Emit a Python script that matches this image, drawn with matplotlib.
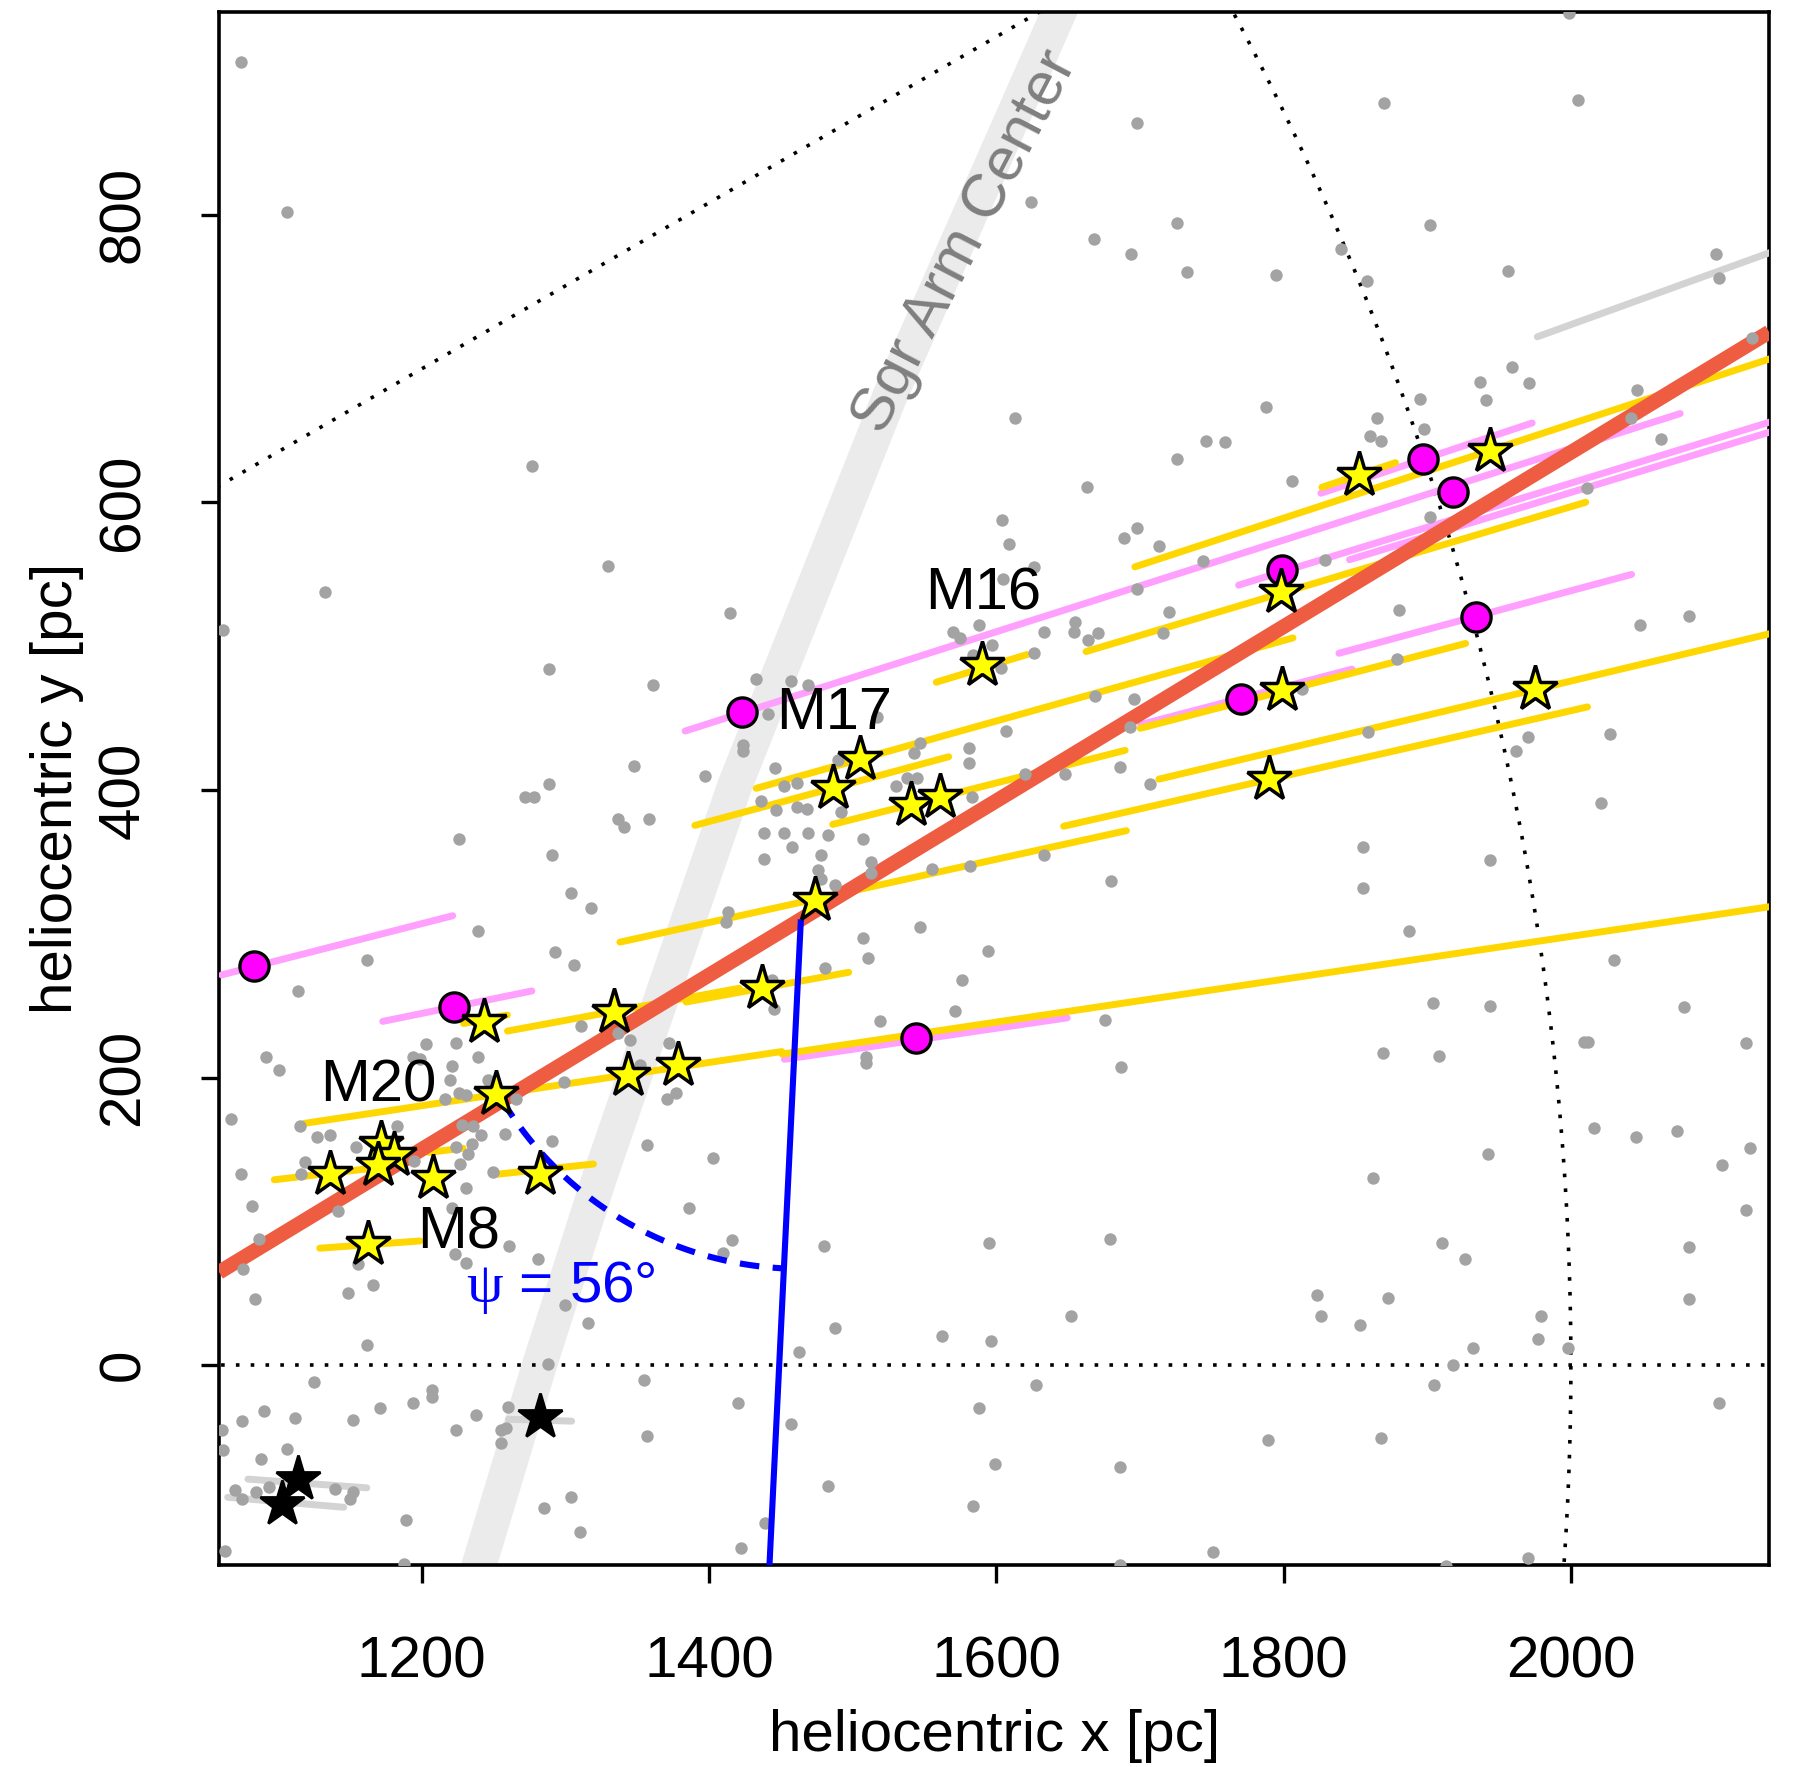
import numpy as np
import matplotlib
matplotlib.use("Agg")
import matplotlib.pyplot as plt

plt.rcParams['font.family'] = ['Liberation Sans', 'DejaVu Sans']
plt.rcParams['mathtext.fontset'] = 'custom'
plt.rcParams['mathtext.rm'] = 'Liberation Serif'

# yellow stars: galactic longitude [deg], distance [pc]
star_l = [18.48, 18.12, 16.64, 14.62, 13.39, 12.83, 17.02, 15.65, 15.12, 14.19,
          14.21, 12.38, 10.34, 10.43, 10.87, 8.54, 8.60, 8.58, 5.92, 7.49,
          7.05, 6.80, 6.68, 6.14, 4.16]
star_d = [1953, 2045, 1877, 1859, 2030, 1836, 1663, 1563, 1540, 1589,
          1610, 1509, 1461, 1356, 1266, 1359, 1394, 1266, 1289, 1182,
          1190, 1178, 1144, 1215, 1166]

# magenta circles (maser parallaxes)
maser_l = [14.37, 11.52, 17.70, 8.37, 14.67, 17.08, 18.38, 17.57, 15.06]
maser_d = [1118, 1248, 1494, 1561, 1830, 1882, 1999, 2012, 2003]

# distance ranges along the line of sight
gold_l = [18.12, 18.48, 16.62, 14.60, 13.38, 12.82, 16.95, 15.64, 15.11, 14.20,
          12.40, 10.34, 10.45, 10.94, 8.55, 8.48, 6.05, 6.70, 7.00, 4.12]
gold_dmin = [1785, 1926, 1735, 1757, 1761, 1689, 1629, 1488, 1440, 1533,
             1370, 1407, 1281, 1252, 1131, 1467, 1260, 1105, 1214, 1132]
gold_dmax = [2300, 1980, 2098, 1991, 2300, 2063, 1695, 1876, 1623, 1743,
             1731, 1522, 1445, 1283, 1467, 2300, 1327, 1170, 1238, 1202]

pink_l = [14.35, 11.52, 17.68, 8.33, 14.68, 17.05, 16.88, 18.37, 15.07]
pink_dmin = [1095, 1197, 1452, 1468, 1758, 1850, 1929, 1924, 1904]
pink_dmax = [1261, 1303, 2179, 1667, 1910, 2300, 2300, 2079, 2115]

# black stars and their light grey ranges
fg_l = [-4.05, -4.99, -1.61]
fg_d = [1117, 1107, 1283]
grey_l = [-4.20, -4.93, -1.71, 19.89]
grey_dmin = [1082, 1069, 1261, 2102]
grey_dmax = [1165, 1150, 1305, 2300]

# field objects
field_x = [1074, 1106, 1698, 1624, 1726, 1668, 1694, 1733, 1999, 1870, 2005, 1902, 1840, 1795,
           1858, 1956, 2101, 2103, 2126, 1959, 1937, 1971, 2046, 1895, 1941, 1277, 1330, 1133,
           1062, 1415, 1289, 1361, 1348, 1397, 1289, 1613, 1746, 1759, 1726, 1663, 1604, 1609,
           1689, 1698, 1713, 1626, 1605, 1744, 1698, 1720, 1588, 1570, 1575, 1597, 1633, 1655,
           1654, 1664, 1671, 1716, 1626, 1603, 1584, 1433, 1457, 1469, 1441, 1669, 1696, 1607,
           1547, 1581, 1543, 1581, 1693, 1686, 1648, 1620, 1707, 1424, 1424, 1446, 1452, 1461,
           1490, 1517, 1538, 1545, 1530, 1788, 1865, 1860, 1868, 1898, 2042, 2063, 1806, 1902,
           2011, 1829, 1880, 2048, 2082, 1879, 1813, 1859, 1970, 1962, 2027, 1272, 1278, 1337,
           1341, 1358, 1226, 1291, 1304, 1318, 1239, 1162, 1293, 1306, 1114, 1413, 1412, 1092,
           1101, 1203, 1224, 1239, 1194, 1199, 1221, 1220, 1311, 1337, 1345, 1372, 1352, 1299,
           1216, 1226, 1231, 1246, 1266, 1371, 1377, 1067, 1115, 1127, 1136, 1183, 1228, 1236,
           1258, 1291, 1241, 1235, 1232, 1224, 1357, 1403, 1074, 1119, 1154, 1195, 1227, 1250,
           1116, 1436, 1447, 1461, 1468, 1492, 1438, 1452, 1469, 1483, 1507, 1458, 1438, 1478,
           1513, 1513, 1476, 1478, 1488, 1555, 1582, 1633, 1680, 1583, 1547, 1507, 1511, 1594,
           1481, 1576, 1444, 1445, 1571, 1519, 1676, 1509, 1509, 1687, 2021, 1855, 1944, 1855,
           1887, 2030, 1904, 1944, 2079, 2009, 2012, 2122, 1869, 1908, 2016, 2045, 2074, 2125,
           2105, 1942, 1862, 1082, 1142, 1221, 1231, 1087, 1076, 1223, 1231, 1156, 1261, 1281,
           1386, 1416, 1410, 1084, 1149, 1166, 1300, 1316, 1162, 1288, 1355, 1125, 1207, 1207,
           1194, 1171, 1090, 1112, 1075, 1152, 1061, 1260, 1238, 1224, 1255, 1259, 1255, 1357,
           1106, 1088, 1062, 1070, 1075, 1085, 1094, 1140, 1152, 1150, 1189, 1285, 1304, 1310,
           1063, 1188, 1420, 1480, 1595, 1679, 1488, 1463, 1562, 1596, 1652, 1628, 1457, 1588,
           1599, 1686, 1483, 1584, 1439, 1422, 1751, 1686, 2122, 1910, 1926, 2082, 1823, 1873,
           1826, 1853, 1979, 1977, 1932, 1998, 1918, 1905, 2103, 1789, 1868, 2082, 1970, 1913]
field_y = [906, 802, 864, 809, 794, 783, 773, 760, 940, 878, 880, 793, 776, 758,
           754, 761, 773, 756, 714, 694, 684, 683, 678, 672, 671, 625, 556, 538,
           511, 523, 484, 473, 417, 410, 404, 659, 643, 642, 630, 611, 588, 571,
           575, 582, 570, 555, 547, 559, 540, 524, 515, 510, 506, 501, 510, 517,
           510, 504, 509, 509, 495, 485, 494, 477, 476, 473, 453, 465, 463, 441,
           433, 429, 426, 419, 444, 416, 411, 411, 404, 431, 427, 415, 403, 405,
           421, 451, 408, 408, 403, 666, 659, 646, 643, 651, 659, 644, 615, 590,
           610, 560, 525, 515, 521, 491, 470, 440, 437, 427, 439, 395, 395, 380,
           374, 380, 366, 355, 328, 318, 302, 282, 287, 278, 260, 315, 308, 214,
           205, 223, 224, 214, 214, 213, 208, 198, 236, 231, 226, 224, 209, 197,
           185, 189, 188, 198, 185, 185, 189, 171, 166, 159, 160, 166, 167, 166,
           161, 156, 160, 154, 147, 152, 153, 144, 133, 141, 152, 142, 140, 134,
           133, 392, 386, 388, 387, 385, 370, 370, 370, 369, 366, 360, 352, 355,
           350, 342, 344, 338, 334, 345, 347, 355, 337, 395, 305, 297, 283, 288,
           276, 268, 268, 248, 246, 239, 240, 214, 210, 207, 391, 360, 351, 332,
           302, 282, 252, 250, 249, 225, 225, 224, 217, 215, 165, 159, 163, 151,
           139, 147, 130, 111, 107, 109, 123, 88, 67, 77, 71, 70, 83, 74,
           109, 87, 78, 46, 50, 56, 42, 29, 14, 1, -10, -12, -17, -22,
           -26, -30, -32, -37, -39, -38, -45, -29, -35, -45, -45, -44, -54, -49,
           -58, -65, -59, -87, -93, -88, -85, -86, -88, -93, -108, -99, -92, -116,
           -129, -138, -26, 83, 85, 88, 26, 9, 20, 17, 34, -14, -41, -30,
           -69, -71, -84, -98, -110, -127, -130, -139, 108, 85, 74, 82, 49, 47,
           34, 28, 34, 18, 12, 12, 0, -14, -26, -52, -51, 46, -134, -140]

# centre line of the Sagittarius arm
sgr_x = [1233, 1240, 1282, 1324, 1418, 1526, 1642, 1652]
sgr_y = [-162, -139, 0, 131, 403, 674, 937, 960]

# fitted arm segment and its pitch angle
arm_x = [1059, 2138]
arm_y = [64.6, 718.4]
psi = 56
tangent_x0 = 1464
arc_r = 243

lon_lines = [0, 30]
dist_circle = 2000


def los(l, d):
    l = np.radians(np.asarray(l, dtype=float))
    d = np.asarray(d, dtype=float)
    return d * np.cos(l), d * np.sin(l)


fig = plt.figure(figsize=(8.985, 8.835), dpi=200)
ax = fig.add_axes([0.1219, 0.1143, 0.8626, 0.8789])

ax.plot(sgr_x, sgr_y, color='#ebebeb', lw=12.6, solid_capstyle='butt', zorder=1)
ax.text(1579, 781, 'Sgr Arm Center', color='#7f7f7f', fontsize=22, rotation=62.5,
        ha='center', va='center', rotation_mode='anchor', zorder=2)

dot = dict(color='black', lw=1.3, dashes=(1, 3.1), zorder=2)
for lon in lon_lines:
    x, y = los([lon, lon], [0, 3000])
    ax.plot(x, y, **dot)
th = np.linspace(-10, 40, 200)
x, y = los(th, np.full_like(th, dist_circle))
ax.plot(x, y, **dot)

for l, d0, d1 in zip(grey_l, grey_dmin, grey_dmax):
    x, y = los([l, l], [d0, d1])
    ax.plot(x, y, color='#d3d3d3', lw=2.5, solid_capstyle='round', zorder=3)
for l, d0, d1 in zip(pink_l, pink_dmin, pink_dmax):
    x, y = los([l, l], [d0, d1])
    ax.plot(x, y, color='#ffa0ff', lw=2.5, solid_capstyle='round', zorder=3)
for l, d0, d1 in zip(gold_l, gold_dmin, gold_dmax):
    x, y = los([l, l], [d0, d1])
    ax.plot(x, y, color='#ffd700', lw=2.5, solid_capstyle='round', zorder=3)

ax.plot(arm_x, arm_y, color='#ee5c42', lw=5.3, solid_capstyle='butt', zorder=4)

ax.scatter(field_x, field_y, s=20, color='#a3a3a3', lw=0, zorder=5)

# tangent direction at the arm and the pitch angle arc
arm_ang = np.degrees(np.arctan2(arm_y[1] - arm_y[0], arm_x[1] - arm_x[0]))
cx = tangent_x0
cy = np.interp(cx, arm_x, arm_y)
tan_ang = np.radians(arm_ang + 180 + psi)
t = (-139 - cy) / np.sin(tan_ang)
ax.plot([cx, cx + t * np.cos(tan_ang)], [cy, -139], color='#0000ff', lw=2.2,
        solid_capstyle='butt', zorder=6)
a = np.radians(np.linspace(arm_ang + 180, arm_ang + 180 + psi, 100))
ax.plot(cx + arc_r * np.cos(a), cy + arc_r * np.sin(a), color='#0000ff', lw=2.2,
        dashes=(3.2, 2.2), zorder=6)
ax.text(1297, 54, r'$\mathrm{ψ}$ = %d°' % psi, color='#0000ff', fontsize=21,
        ha='center', va='center', zorder=8)

x, y = los(maser_l, maser_d)
ax.plot(x, y, 'o', ms=10.5, mfc='#ff00ff', mec='black', mew=1.2, zorder=7)
x, y = los(star_l, star_d)
ax.plot(x, y, '*', ms=17, mfc='#ffff00', mec='black', mew=1.25, zorder=7)
x, y = los(fg_l, fg_d)
ax.plot(x, y, '*', ms=17, mfc='black', mec='black', mew=1.0, zorder=7)

for name, tx, ty in [('M16', 1591, 536), ('M17', 1487, 453), ('M20', 1170, 194), ('M8', 1226, 92)]:
    ax.text(tx, ty, name, fontsize=21.5, ha='center', va='center', zorder=8)

ax.set_xlim(1059, 2138)
ax.set_ylim(-139, 941)
ax.set_xticks([1200, 1400, 1600, 1800, 2000])
ax.set_yticks([0, 200, 400, 600, 800])
ax.tick_params(direction='out', length=6.5, width=1.2, labelsize=21)
ax.tick_params(axis='x', pad=19)
ax.tick_params(axis='y', pad=18, labelrotation=90)
for lbl in ax.get_yticklabels():
    lbl.set_va('center')
for s in ax.spines.values():
    s.set_linewidth(1.3)

ax.set_xlabel('heliocentric x [pc]', fontsize=21)
ax.set_ylabel('heliocentric y [pc]', fontsize=21)
ax.xaxis.set_label_coords(0.5, -0.110)
ax.xaxis.label.set_va('center')
ax.yaxis.set_label_coords(-0.1045, 0.5)
ax.yaxis.label.set_va('center')

fig.savefig('out.png', dpi=200)
